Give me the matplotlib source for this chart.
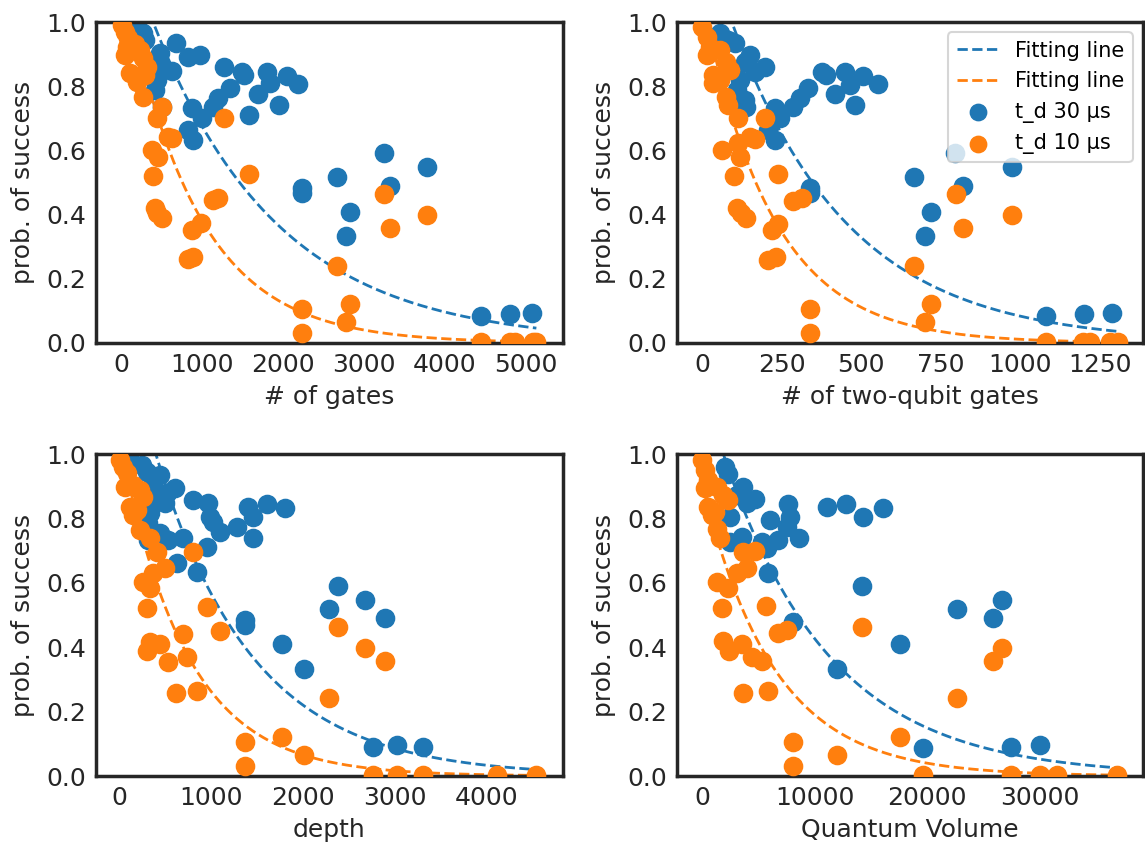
import matplotlib
matplotlib.use('Agg')
import matplotlib.pyplot as plt
import numpy as np

BLUE = '#1f77b4'
ORANGE = '#ff7f0e'
DARK = '#262626'

# ---------------- panel 1: # of gates ----------------
gates_x_30 = [193, 276, 296, 481, 679, 502, 626, 440, 420, 502, 831, 975, 1272, 1490, 1519, 1806, 1840,
              2053, 2189, 1346, 1202, 1140, 1695, 1955, 1584, 872, 996, 831, 893, 3251, 3782, 2671, 3321,
              2231, 2231, 2827, 2778, 4453, 4811, 5078]
gates_y_30 = [0.99, 0.965, 0.944, 0.902, 0.936, 0.861, 0.848, 0.819, 0.788, 0.736, 0.892, 0.897, 0.861,
              0.845, 0.835, 0.845, 0.809, 0.832, 0.807, 0.793, 0.762, 0.736, 0.775, 0.741, 0.710, 0.731,
              0.700, 0.664, 0.632, 0.591, 0.547, 0.518, 0.490, 0.482, 0.468, 0.409, 0.333, 0.085, 0.089, 0.094]
gates_x_10 = [8, 49, 90, 70, 49, 173, 235, 276, 317, 296, 111, 193, 276, 502, 440, 584, 626, 379, 461, 399,
              1272, 1584, 1140, 1202, 420, 502, 440, 872, 988, 831, 893, 2671, 3247, 3782, 3321, 2231, 2827,
              2778, 2231, 4453, 4811, 4864, 5090, 5131]
gates_y_10 = [0.99, 0.970, 0.949, 0.923, 0.897, 0.933, 0.913, 0.887, 0.861, 0.835, 0.840, 0.814, 0.767,
              0.736, 0.700, 0.643, 0.638, 0.601, 0.580, 0.521, 0.700, 0.528, 0.446, 0.451, 0.420, 0.388,
              0.404, 0.352, 0.373, 0.261, 0.267, 0.241, 0.464, 0.399, 0.357, 0.105, 0.120, 0.064, 0.030,
              0.003, 0.004, 0.004, 0.004, 0.003]

# ---------------- panel 2: # of two-qubit gates ----------------
twoq_x_30 = [57, 83, 104, 151, 198, 166, 135, 119, 109, 140, 135, 376, 391, 451, 507, 554, 465, 418, 480,
             332, 308, 287, 229, 245, 208, 229, 339, 339, 794, 974, 667, 821, 718, 700, 1082, 1200, 1288]
twoq_y_30 = [0.965, 0.944, 0.936, 0.897, 0.861, 0.845, 0.876, 0.819, 0.788, 0.736, 0.757, 0.845, 0.835,
             0.845, 0.832, 0.807, 0.804, 0.775, 0.741, 0.793, 0.762, 0.736, 0.731, 0.700, 0.664, 0.632,
             0.482, 0.468, 0.591, 0.547, 0.518, 0.490, 0.409, 0.333, 0.085, 0.089, 0.094]
twoq_x_10 = [0, 15, 25, 15, 57, 77, 88, 36, 57, 36, 77, 83, 114, 198, 151, 166, 114, 62, 119, 100, 240,
             287, 313, 109, 138, 124, 219, 240, 208, 232, 667, 798, 974, 821, 339, 719, 700, 339, 1082,
             1197, 1220, 1281, 1307]
twoq_y_10 = [0.985, 0.954, 0.923, 0.897, 0.913, 0.876, 0.850, 0.835, 0.819, 0.809, 0.767, 0.741, 0.700,
             0.700, 0.643, 0.634, 0.622, 0.601, 0.580, 0.521, 0.528, 0.443, 0.451, 0.420, 0.388, 0.404,
             0.352, 0.371, 0.259, 0.267, 0.241, 0.464, 0.399, 0.357, 0.105, 0.120, 0.064, 0.030, 0.003,
             0.003, 0.003, 0.003, 0.003]

# ---------------- panel 3: depth ----------------
depth_x_30 = [120, 246, 301, 446, 373, 609, 518, 409, 500, 337, 319, 446, 319, 808, 971, 989, 1025, 1098,
              1279, 1406, 1460, 1605, 1804, 1460, 953, 844, 627, 699, 536, 1370, 1370, 1768, 2014, 2384,
              2674, 2283, 2891, 2757, 3018, 3301]
depth_y_30 = [0.981, 0.966, 0.945, 0.935, 0.909, 0.893, 0.878, 0.868, 0.847, 0.816, 0.785, 0.754, 0.733,
              0.857, 0.847, 0.805, 0.790, 0.759, 0.774, 0.836, 0.805, 0.845, 0.831, 0.738, 0.710, 0.634,
              0.660, 0.738, 0.733, 0.484, 0.469, 0.410, 0.333, 0.590, 0.547, 0.519, 0.490, 0.091, 0.096,
              0.089]
depth_x_10 = [11, 47, 83, 65, 156, 228, 264, 120, 192, 156, 228, 337, 409, 808, 500, 373, 264, 337, 308,
              953, 1098, 699, 337, 446, 308, 743, 536, 620, 851, 2384, 2674, 2891, 2283, 1370, 1768, 2014,
              1370, 2757, 3018, 3301, 4112, 4529]
depth_y_10 = [0.981, 0.961, 0.940, 0.899, 0.903, 0.888, 0.868, 0.836, 0.826, 0.811, 0.764, 0.738, 0.697,
              0.697, 0.645, 0.629, 0.603, 0.583, 0.521, 0.526, 0.451, 0.441, 0.417, 0.410, 0.389, 0.371,
              0.353, 0.259, 0.265, 0.464, 0.397, 0.358, 0.243, 0.107, 0.122, 0.065, 0.031, 0.003, 0.003,
              0.003, 0.003, 0.003]

# ---------------- panel 4: Quantum Volume ----------------
qv_x_30 = [2045, 2340, 3674, 4712, 3971, 3082, 2489, 3526, 2489, 5304, 6045, 7674, 7823, 7526, 6786, 8653,
           11083, 12772, 14343, 16061, 5749, 5837, 8120, 14254, 22699, 26640, 25840, 17600, 12030, 19677,
           27442, 30048]
qv_y_30 = [0.961, 0.938, 0.899, 0.859, 0.847, 0.872, 0.805, 0.743, 0.728, 0.728, 0.795, 0.845, 0.804,
           0.773, 0.733, 0.740, 0.836, 0.845, 0.805, 0.831, 0.707, 0.631, 0.479, 0.590, 0.519, 0.547,
           0.490, 0.410, 0.333, 0.086, 0.091, 0.096]
qv_x_10 = [0, 267, 563, 267, 1304, 1896, 2340, 563, 1156, 860, 1304, 1600, 3674, 4712, 3971, 3082, 1304,
           2340, 1748, 5660, 14195, 26640, 25840, 22699, 6786, 7526, 1896, 3526, 2430, 4415, 5304, 3615,
           5837, 8120, 17600, 12030, 8120, 19677, 27442, 30048, 31530, 36866]
qv_y_10 = [0.981, 0.951, 0.920, 0.893, 0.899, 0.872, 0.857, 0.836, 0.821, 0.810, 0.766, 0.738, 0.697,
           0.700, 0.645, 0.629, 0.603, 0.583, 0.521, 0.529, 0.464, 0.399, 0.358, 0.243, 0.443, 0.453,
           0.420, 0.410, 0.389, 0.371, 0.357, 0.259, 0.265, 0.107, 0.122, 0.065, 0.031, 0.003, 0.003,
           0.003, 0.003, 0.003]

# exponential fit parameters (amplitude, decay constant) per panel
fit_30 = [(1.292, 1542), (1.294, 365), (1.46, 1057), (1.22, 9531)]
fit_10 = [(1.17, 892), (1.08, 220), (1.055, 720), (0.909, 6400)]

xlabels = ['# of gates', '# of two-qubit gates', 'depth', 'Quantum Volume']
xlims = [(-310, 5460), (-78, 1385), (-250, 4826), (-2222, 39200)]
xticks = [[0, 1000, 2000, 3000, 4000, 5000], [0, 250, 500, 750, 1000, 1250],
          [0, 1000, 2000, 3000, 4000], [0, 10000, 20000, 30000]]
yticks = [0.0, 0.2, 0.4, 0.6, 0.8, 1.0]

panels = [
    (gates_x_30, gates_y_30, gates_x_10, gates_y_10),
    (twoq_x_30, twoq_y_30, twoq_x_10, twoq_y_10),
    (depth_x_30, depth_y_30, depth_x_10, depth_y_10),
    (qv_x_30, qv_y_30, qv_x_10, qv_y_10),
]

plt.rcParams['font.family'] = ['DejaVu Sans']
fig = plt.figure(figsize=(11.45, 8.5), dpi=100)

W, H = 1145, 850
positions = [(96, 22, 563, 343), (677, 22, 1143, 343), (96, 454, 563, 776), (677, 454, 1143, 776)]

for i, (pos, data) in enumerate(zip(positions, panels)):
    l, t, r, b = pos
    ax = fig.add_axes([l / W, 1 - b / H, (r - l) / W, (b - t) / H])
    x30, y30, x10, y10 = data
    xmax = max(max(x30), max(x10))
    xs = np.linspace(0, xmax, 400)
    a30, tau30 = fit_30[i]
    a10, tau10 = fit_10[i]
    ax.plot(xs, a30 * np.exp(-xs / tau30), '--', color=BLUE, lw=2, zorder=1, label='Fitting line')
    ax.plot(xs, a10 * np.exp(-xs / tau10), '--', color=ORANGE, lw=2, zorder=1, label='Fitting line')
    ax.scatter(x30, y30, s=172, color=BLUE, zorder=2, label='t_d 30 μs')
    ax.scatter(x10, y10, s=172, color=ORANGE, zorder=3, label='t_d 10 μs')
    ax.set_xlim(*xlims[i])
    ax.set_ylim(0, 1)
    ax.set_xticks(xticks[i])
    ax.set_yticks(yticks)
    ax.tick_params(length=0, labelsize=18, colors=DARK, pad=7)
    ax.set_xlabel(xlabels[i], fontsize=18, color=DARK, labelpad=6)
    ax.set_ylabel('prob. of success', fontsize=18, color=DARK, labelpad=8)
    for sp in ax.spines.values():
        sp.set_linewidth(2.5)
        sp.set_color(DARK)
    if i == 1:
        leg = ax.legend(loc='upper right', fontsize=15, markerscale=0.9, borderpad=0.4,
                        handlelength=2.0, framealpha=0.8, edgecolor='#cccccc', fancybox=True)
        leg.get_frame().set_linewidth(1.5)

fig.savefig('out.png', dpi=100)
